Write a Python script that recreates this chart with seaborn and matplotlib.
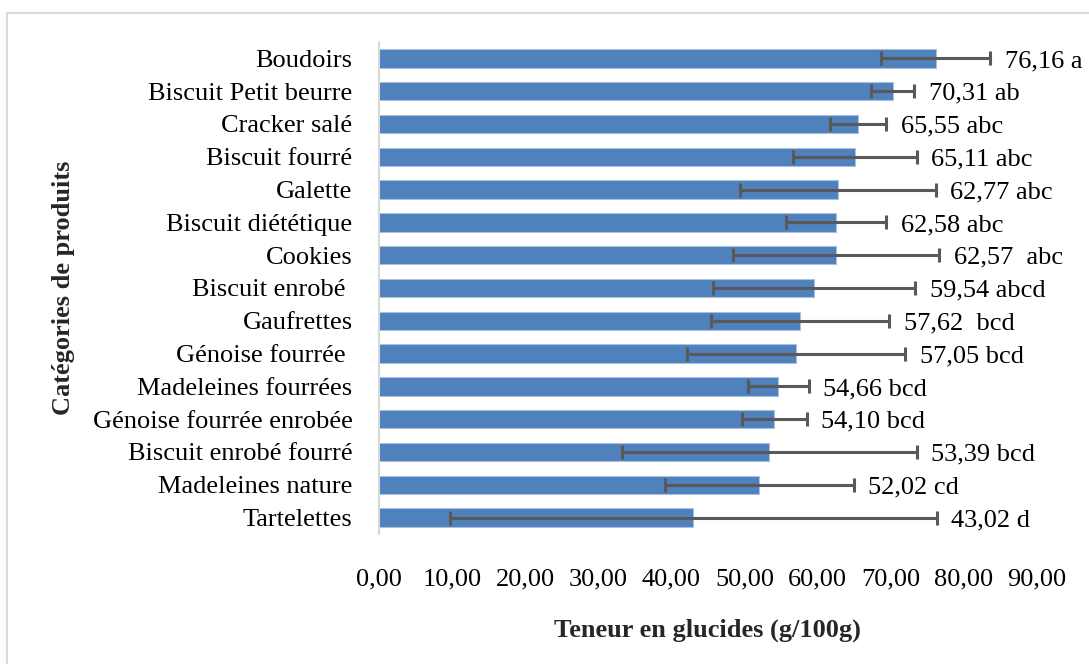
import matplotlib
matplotlib.use("Agg")
import matplotlib.pyplot as plt
import seaborn as sns
import pandas as pd
from matplotlib.patches import Rectangle

# Carbohydrate content per product category (g/100g), with standard deviations
categories = [
    "Boudoirs", "Biscuit Petit beurre", "Cracker salé", "Biscuit fourré",
    "Galette", "Biscuit diététique", "Cookies", "Biscuit enrobé ",
    "Gaufrettes", "Génoise fourrée ", "Madeleines fourrées",
    "Génoise fourrée enrobée", "Biscuit enrobé fourré", "Madeleines nature",
    "Tartelettes",
]
means = [76.16, 70.31, 65.55, 65.11, 62.77, 62.58, 62.57, 59.54,
         57.62, 57.05, 54.66, 54.10, 53.39, 52.02, 43.02]
std_devs = [7.45, 2.92, 3.83, 8.44, 13.40, 6.84, 14.09, 13.86,
            12.20, 14.95, 4.15, 4.45, 20.18, 12.93, 33.30]
groups = ["a", "ab", "abc", "abc", "abc", "abc", " abc", "abcd",
          " bcd", "bcd", "bcd", "bcd", "bcd", "cd", "d"]
x_ticks = [0, 10, 20, 30, 40, 50, 60, 70, 80, 90]

df = pd.DataFrame({"categorie": categories, "teneur": means})

sns.set_theme(style="white")
plt.rcParams["font.family"] = ["Liberation Serif", "DejaVu Serif"]

fig = plt.figure(figsize=(10.89, 6.64), dpi=100)
ax = fig.add_axes([0.348, 0.1958, 0.604, 0.741])

bar_color = "#4F81BD"
sns.barplot(data=df, x="teneur", y="categorie", orient="h", ax=ax,
            color=bar_color, saturation=1, width=0.56,
            edgecolor="#A9C0DF", linewidth=0.8)

ax.errorbar(means, range(len(categories)), xerr=std_devs, fmt="none",
            ecolor="#595959", elinewidth=2.2, capsize=4.8, capthick=2.2,
            zorder=3)

for i, (m, s, g) in enumerate(zip(means, std_devs, groups)):
    label = f"{m:.2f}".replace(".", ",") + " " + g
    ax.text(m + s + 2.0, i + 0.08, label, ha="left", va="center",
            fontsize=19, color="black")

ax.set_xlim(0, 90)
ax.set_ylim(len(categories) - 0.5, -0.5)
ax.set_xticks(x_ticks)
ax.set_xticklabels([f"{t:.2f}".replace(".", ",") for t in x_ticks])
ax.tick_params(axis="x", length=0, pad=25, labelsize=19, labelcolor="black")
ax.tick_params(axis="y", length=0, pad=19, labelsize=19, labelcolor="black")

ax.set_xlabel("Teneur en glucides (g/100g)", fontsize=19, fontweight="bold",
              labelpad=20)
ax.set_ylabel("Catégories de produits", fontsize=19, fontweight="bold")
ax.yaxis.set_label_coords(-0.462, 0.5)

for side in ["top", "right", "bottom"]:
    ax.spines[side].set_visible(False)
ax.spines["left"].set_color("#D9D9D9")
ax.spines["left"].set_linewidth(1.5)
ax.grid(False)

# Light chart-area frame
fig.patches.append(Rectangle((7 / 1089, -0.05), 1.2, 1 - 13 / 664 + 0.05,
                             transform=fig.transFigure, fill=False,
                             edgecolor="#D9D9D9", linewidth=1.5))

fig.savefig("out.png", dpi=100, facecolor="white")
